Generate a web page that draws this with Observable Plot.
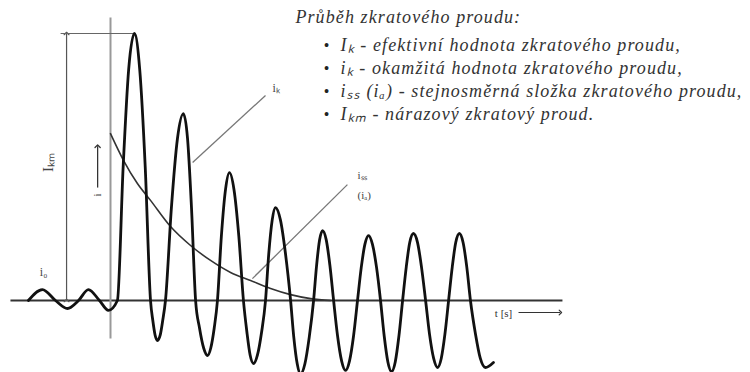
<!DOCTYPE html>
<html><head><meta charset="utf-8">
<script src="https://cdn.jsdelivr.net/npm/d3@7"></script>
<script src="https://cdn.jsdelivr.net/npm/@observablehq/plot@0.6"></script>
<style>body{margin:0;background:#fff} svg{display:block}</style>
</head><body><div id="chart"></div>
<script>
// time t in ms (fault at t = 0, 50 Hz), current i in % of the peak short-circuit current
const waveT = [-35.7,-29.6,-23.9,-18.7,-13.9,-9.6,-4.8,-0.9,3.0,
  5.5,7.9,10.4,12.7,15.1,17.4,18.4,19.4,20.4,21.6,22.7,23.9,
  26.5,29.1,31.7,33.5,35.2,37.0,38.7,40.5,42.2,43.6,45.1,46.5,
  48.2,50.0,51.7,53.7,55.8,57.8,59.3,60.7,62.2,63.9,65.7,67.4,
  68.8,70.3,71.7,73.9,76.1,78.3,79.7,81.2,82.6,84.5,86.4,88.3,
  89.6,90.9,92.2,93.8,95.4,97.0,98.7,100.5,102.2,103.9,105.7,107.4,
  109.0,110.6,112.2,113.9,115.7,117.4,119.0,120.6,122.2,123.8,125.4,127.0,
  128.6,130.1,131.7,133.5,135.2,137.0,138.7,140.5,142.2,143.8,145.4,147.0,
  148.6,150.1,151.7,153.3,154.9,156.5,158.7,160.8,163.0,166.5];
const waveI = [0,4.1,0,-3.0,0,4.1,0,-3.7,0,
  50,86.6,100,86.6,50,0,-7.5,-13,-15,-13,-7.5,0,
  35,60.6,70,60.6,35,0,-10.3,-17.8,-20.6,-17.8,-10.3,0,
  24,41.5,47.9,41.5,24,0,-11.8,-20.4,-23.6,-20.4,-11.8,0,
  17.4,30.1,34.8,30.1,17.4,0,-13.8,-23.8,-27.5,-23.8,-13.8,0,
  13.1,22.7,26.2,22.7,13.1,0,-13.1,-22.7,-26.2,-22.7,-13.1,0,
  12.2,21.0,24.3,21.0,12.2,0,-13.3,-23.0,-26.6,-23.0,-13.3,0,
  12.6,21.7,25.1,21.7,12.6,0,-12.6,-21.7,-25.1,-21.7,-12.6,0,
  12.6,21.7,25.1,21.7,12.6,0,-12.6,-21.7,-25.1,-23.2];
// DC component i_ss
const dcT = [0,5.7,11.7,17.4,26.1,34.8,43.5,52.2,60.9,69.6,78.3,87.0,95.7];
const dcI = [62.5,52.4,43.8,37.5,27.7,20.6,15.0,10.5,7.5,4.5,2.2,0.7,0];
// legend texts
const legendTitle = "Průběh zkratového proudu:";
const legendItems = [
  "Iₖ - efektivní hodnota zkratového proudu,",
  "iₖ - okamžitá hodnota zkratového proudu,",
  "iₛₛ (iₐ) - stejnosměrná složka zkratového proudu,",
  "Iₖₘ - nárazový zkratový proud."
];
const legendI = [95.5, 86.9, 78.3, 69.7];
// annotation anchors (data units)
const axisTime = [-43.5, 196.5];
const axisCurrent = [-14.2, 106];
const ikmT = -19.1;
const ikmTopT = [-21.7, 10.4];
const peakI = 100;
const arrowT = -5.6, arrowI = [42.3, 57.8];
const pointerIk = {t1: 35.7, i1: 51.7, t2: 67.4, i2: 76.8};
const pointerIss = {t1: 61.7, i1: 8.2, t2: 103.0, i2: 43.4};

const wave = waveT.map((t, k) => ({t, i: waveI[k]}));
const dc = dcT.map((t, k) => ({t, i: dcI[k]}));
const serif = "'Liberation Serif', 'Times New Roman', serif";
const txt = {fontFamily: serif, fontStyle: "italic", fill: "#333"};

const plot = Plot.plot({
  width: 750, height: 372, margin: 0,
  x: {domain: [-110/2.3, 640/2.3], axis: null},
  y: {domain: [-72/2.67, 300/2.67], axis: null},
  style: {background: "#fff"},
  marks: [
    Plot.link([{a: axisTime[0], b: axisTime[1]}], {x1: "a", x2: "b", y1: () => 0, y2: () => 0, stroke: "#333", strokeWidth: 2}),
    Plot.link([{a: axisCurrent[0], b: axisCurrent[1]}], {x1: () => 0, x2: () => 0, y1: "a", y2: "b", stroke: "#999", strokeWidth: 2}),
    Plot.link([{a: 0, b: peakI}], {x1: () => ikmT, x2: () => ikmT, y1: "a", y2: "b", stroke: "#555", strokeWidth: 1.2, markerStart: "arrow", markerEnd: "arrow"}),
    Plot.link([{a: ikmTopT[0], b: ikmTopT[1]}], {x1: "a", x2: "b", y1: () => peakI, y2: () => peakI, stroke: "#666", strokeWidth: 1.2}),
    Plot.link([{a: arrowI[0], b: arrowI[1]}], {x1: () => arrowT, x2: () => arrowT, y1: "a", y2: "b", stroke: "#333", strokeWidth: 1.3, markerEnd: "arrow"}),
    Plot.link([{a: 177.4, b: 195.6}], {x1: "a", x2: "b", y1: () => -4.5, y2: () => -4.5, stroke: "#333", strokeWidth: 1.2, markerEnd: "arrow"}),
    Plot.line(dc, {x: "t", y: "i", curve: "monotone-x", stroke: "#333", strokeWidth: 1.6}),
    Plot.link([pointerIk, pointerIss], {x1: "t1", y1: "i1", x2: "t2", y2: "i2", stroke: "#777", strokeWidth: 1.3}),
    Plot.line(wave, {x: "t", y: "i", curve: "monotone-x", stroke: "#111", strokeWidth: 2.8}),
    Plot.text(["Iₖₘ"], {x: () => -27, y: () => 51.7, rotate: -90, fontSize: 15, fontFamily: serif, fill: "#444"}),
    Plot.text(["i"], {x: () => arrowT, y: () => 39.5, rotate: -90, fontSize: 11, fontFamily: serif, fill: "#444"}),
    Plot.text(["i₀"], {x: () => -29.1, y: () => 10.5, fontSize: 12, fontFamily: serif, fill: "#444"}),
    Plot.text(["iₖ"], {x: () => 70.4, y: () => 79.4, textAnchor: "start", fontSize: 12, fontFamily: serif, fill: "#444"}),
    Plot.text(["iₛₛ"], {x: () => 107.4, y: () => 46.8, textAnchor: "start", fontSize: 11, fontFamily: serif, fill: "#444"}),
    Plot.text(["(iₐ)"], {x: () => 107.4, y: () => 39.3, textAnchor: "start", fontSize: 11, fontFamily: serif, fill: "#444"}),
    Plot.text(["t [s]"], {x: () => 170.9, y: () => -4.9, fontSize: 11, fontFamily: serif, fill: "#333"}),
    Plot.text([legendTitle], {x: () => 80.4, y: () => 106.2, textAnchor: "start", fontSize: 18, ...txt}),
    Plot.text(legendItems, {x: () => 93.9, y: (d, k) => legendI[k], text: () => "•", fontSize: 16, fontFamily: serif, fill: "#222"}),
    Plot.text(legendItems, {x: () => 100, y: (d, k) => legendI[k], text: d => d, textAnchor: "start", fontSize: 18, ...txt})
  ]
});
// widen legend lettering like the reference
d3.select(plot).selectAll("text").filter(function () {
  const s = this.textContent;
  return s === legendTitle || legendItems.includes(s);
}).attr("letter-spacing", "1.1");
document.getElementById("chart").append(plot);
</script>
</body></html>
